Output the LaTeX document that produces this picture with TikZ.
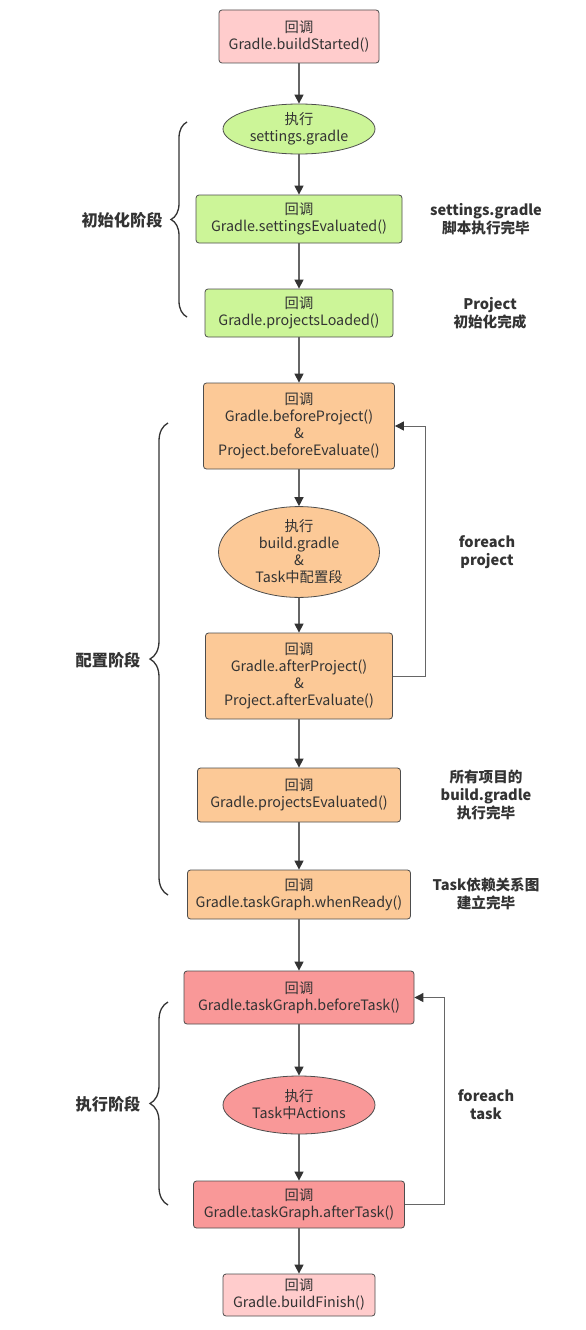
\documentclass[tikz,border=0pt]{standalone}
\usepackage{fontspec}
\setmainfont{Noto Sans CJK SC}
\usetikzlibrary{shapes.geometric,arrows.meta,decorations.pathreplacing}
\definecolor{txt}{HTML}{333333}
\definecolor{edge}{HTML}{4D4D4D}
\definecolor{lnk}{HTML}{666666}
\definecolor{cpink}{HTML}{FFCCCC}
\definecolor{cgreen}{HTML}{CCF598}
\definecolor{corange}{HTML}{FCC997}
\definecolor{cred}{HTML}{F99898}
\tikzset{
  box/.style={draw=edge, rounded corners=3pt, align=center, inner sep=0pt,
    line width=0.8pt, text=txt, font=\fontsize{14.3}{17}\selectfont},
  oval/.style={ellipse, draw=edge, align=center, inner sep=0pt,
    line width=0.8pt, text=txt, font=\fontsize{14.3}{17}\selectfont},
  arr/.style={draw=lnk, line width=1.3pt, -{Triangle[length=9pt,width=9pt,color=txt]}},
  note/.style={align=center, text=txt, font=\fontsize{14.6}{18}\selectfont\bfseries},
  phase/.style={align=center, text=txt, font=\fontsize{16.2}{18}\selectfont\bfseries},
  brc/.style={draw=txt, line width=1.3pt, decorate}
}
\begin{document}
\begin{tikzpicture}[x=1pt,y=-1pt]
\fill[white] (0,0) rectangle (586,1330);
\useasboundingbox (0,0) rectangle (586,1330);

\node[box, fill=cpink, minimum width=160pt, minimum height=53pt] (n1) at (299,36.5) {回调\\Gradle.buildStarted()};
\node[oval, fill=cgreen, minimum width=152pt, minimum height=50pt] (n2) at (299,129) {执行\\settings.gradle};
\node[box, fill=cgreen, minimum width=206pt, minimum height=48pt] (n3) at (299,219) {回调\\Gradle.settingsEvaluated()};
\node[box, fill=cgreen, minimum width=188pt, minimum height=48pt] (n4) at (299,313) {回调\\Gradle.projectsLoaded()};
\node[box, fill=corange, minimum width=191pt, minimum height=86pt] (n5) at (299,426) {回调\\Gradle.beforeProject()\\\&\\Project.beforeEvaluate()};
\node[oval, fill=corange, minimum width=161pt, minimum height=82pt] (n6) at (299,552) {执行\\build.gradle\\\&\\Task中配置段};
\node[box, fill=corange, minimum width=187pt, minimum height=86pt] (n7) at (299,676) {回调\\Gradle.afterProject()\\\&\\Project.afterEvaluate()};
\node[box, fill=corange, minimum width=203pt, minimum height=54pt] (n8) at (299,795) {回调\\Gradle.projectsEvaluated()};
\node[box, fill=corange, minimum width=223pt, minimum height=49pt] (n9) at (299,894.5) {回调\\Gradle.taskGraph.whenReady()};
\node[box, fill=cred, minimum width=230pt, minimum height=53pt] (n10) at (299,997.5) {回调\\Gradle.taskGraph.beforeTask()};
\node[oval, fill=cred, minimum width=152pt, minimum height=58pt] (n11) at (299,1105) {执行\\Task中Actions};
\node[box, fill=cred, minimum width=211pt, minimum height=47pt] (n12) at (299,1204.5) {回调\\Gradle.taskGraph.afterTask()};
\node[box, fill=cpink, minimum width=152pt, minimum height=42pt] (n13) at (299,1295) {回调\\Gradle.buildFinish()};

\draw[arr] (n1) -- (n2);
\draw[arr] (n2) -- (n3);
\draw[arr] (n3) -- (n4);
\draw[arr] (n4) -- (n5);
\draw[arr] (n5) -- (n6);
\draw[arr] (n6) -- (n7);
\draw[arr] (n7) -- (n8);
\draw[arr] (n8) -- (n9);
\draw[arr] (n9) -- (n10);
\draw[arr] (n10) -- (n11);
\draw[arr] (n11) -- (n12);
\draw[arr] (n12) -- (n13);
\coordinate (l1) at (425,676);
\coordinate (l2) at (444,1204.5);
\draw[arr, line width=1pt] (n7.east) -- (l1) |- (n5.east);
\draw[arr, line width=1pt] (n12.east) -- (l2) |- (n10.east);

\node[note] (a1) at (486,219) {settings.gradle\\脚本执行完毕};
\node[note] (a2) at (490,313) {Project\\初始化完成};
\node[note] (a3) at (487,552) {foreach\\project};
\node[note] (a4) at (486,795) {所有项目的\\build.gradle\\执行完毕};
\node[note] (a5) at (486,894) {Task依赖关系图\\建立完毕};
\node[note] (a6) at (486,1105) {foreach\\task};

\coordinate (b1t) at (187,122);
\coordinate (b1b) at (187,317);
\coordinate (b2t) at (168,423);
\coordinate (b2b) at (168,895);
\coordinate (b3t) at (168,1002);
\coordinate (b3b) at (168,1205);
\draw[brc, decoration={brace, amplitude=16pt}] (b1b) -- (b1t);
\draw[brc, decoration={brace, amplitude=18pt}] (b2b) -- (b2t);
\draw[brc, decoration={brace, amplitude=18pt}] (b3b) -- (b3t);
\node[phase] (p1) at (122,220) {初始化阶段};
\node[phase] (p2) at (108,660) {配置阶段};
\node[phase] (p3) at (108,1104) {执行阶段};
\end{tikzpicture}
\end{document}
